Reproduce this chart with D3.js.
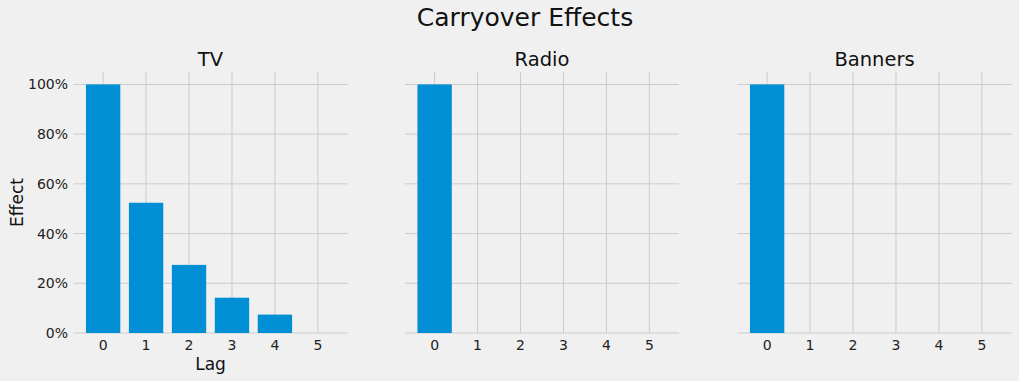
<!DOCTYPE html>
<html>
<head>
<meta charset="utf-8">
<script src="https://cdn.jsdelivr.net/npm/d3@7"></script>
<style>
  html, body { margin: 0; padding: 0; background: #f0f0f0; }
  svg { display: block; font-family: "DejaVu Sans", sans-serif; }
</style>
</head>
<body>
<svg id="chart" width="1019" height="381"></svg>
<script>
const lags = [0, 1, 2, 3, 4, 5];
const channels = ["TV", "Radio", "Banners"];
const tvEffect = [1.0, 0.524, 0.274, 0.142, 0.074, 0.0];
const radioEffect = [1.0, 0, 0, 0, 0, 0];
const bannersEffect = [1.0, 0, 0, 0, 0, 0];
const yTicks = [0, 0.2, 0.4, 0.6, 0.8, 1.0];
const seriesList = [tvEffect, radioEffect, bannersEffect];

const svg = d3.select("#chart");
const W = 1019, H = 381;
svg.append("rect").attr("width", W).attr("height", H).attr("fill", "#f0f0f0");

const axLefts = [73.5, 405, 737.5];
const axW = 274;
const axTop = 72, axBottom = 333;

svg.append("text").attr("x", 525).attr("y", 26).attr("text-anchor", "middle")
  .attr("font-size", 25).attr("fill", "#111").text("Carryover Effects");

const y = d3.scaleLinear().domain([0, 1.05]).range([axBottom, axTop]);

channels.forEach((name, i) => {
  const data = seriesList[i];
  const x = d3.scaleLinear().domain([-0.69, 5.69]).range([axLefts[i], axLefts[i] + axW]);
  const g = svg.append("g");
  const bw = x(0.8) - x(0);

  // grid
  g.selectAll(".hg").data(yTicks).enter().append("line")
    .attr("x1", x.range()[0]).attr("x2", x.range()[1])
    .attr("y1", d => y(d)).attr("y2", d => y(d))
    .attr("stroke", "#cbcbcb").attr("stroke-width", 1);
  g.selectAll(".vg").data(lags).enter().append("line")
    .attr("x1", d => x(d)).attr("x2", d => x(d))
    .attr("y1", axTop).attr("y2", axBottom)
    .attr("stroke", "#cbcbcb").attr("stroke-width", 1);

  // bars
  g.selectAll(".bar").data(lags).enter().append("rect")
    .attr("x", d => x(d - 0.4)).attr("width", bw)
    .attr("y", (d, j) => y(data[j])).attr("height", (d, j) => y(0) - y(data[j]))
    .attr("fill", "#008fd5");

  // x tick labels
  g.selectAll(".xt").data(lags).enter().append("text")
    .attr("x", d => x(d)).attr("y", 349.5).attr("text-anchor", "middle")
    .attr("font-size", 14).attr("fill", "#222").text(d => d);

  // y tick labels only on first
  if (i === 0) {
    g.selectAll(".yt").data(yTicks).enter().append("text")
      .attr("x", axLefts[0] - 5.5).attr("y", d => y(d)).attr("dy", "0.36em")
      .attr("text-anchor", "end").attr("font-size", 14).attr("fill", "#222")
      .text(d => d3.format(".0%")(d));
    g.append("text").attr("x", x(2.5)).attr("y", 370).attr("text-anchor", "middle")
      .attr("font-size", 17).attr("fill", "#111").text("Lag");
    g.append("text").attr("transform", `translate(23,${(axTop + axBottom) / 2}) rotate(-90)`)
      .attr("text-anchor", "middle").attr("font-size", 17).attr("fill", "#111").text("Effect");
  }

  // subplot title
  g.append("text").attr("x", x(2.5)).attr("y", 66).attr("text-anchor", "middle")
    .attr("font-size", 19.5).attr("fill", "#111").text(name);
});
</script>
</body>
</html>
